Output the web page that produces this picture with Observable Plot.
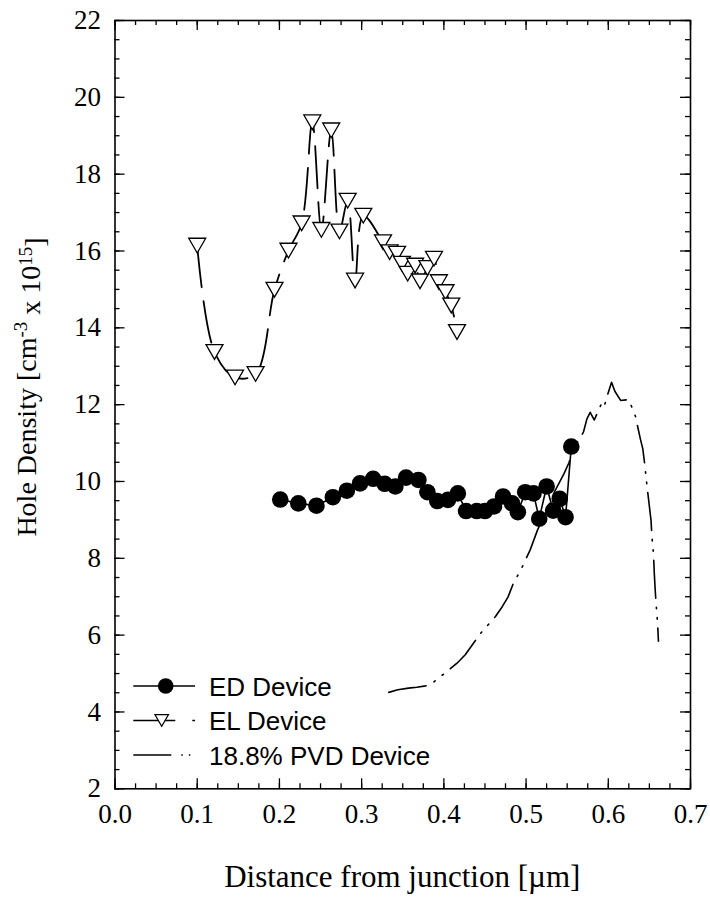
<!DOCTYPE html>
<html>
<head>
<meta charset="utf-8">
<script src="https://cdn.jsdelivr.net/npm/d3@7"></script>
<script src="https://cdn.jsdelivr.net/npm/@observablehq/plot@0.6"></script>
<style>
  html, body { margin: 0; padding: 0; background: #fff; }
</style>
</head>
<body>
<div id="chart"></div>
<script>
// ---------------- data ----------------
const edX = [0.201,0.223,0.245,0.265,0.282,0.298,0.314,0.328,0.341,0.354,0.369,0.380,0.392,0.405,0.417,0.427,0.440,0.450,0.461,0.472,0.483,0.490,0.499,0.509,0.516,0.525,0.533,0.541,0.548,0.555];
const edY = [9.53,9.43,9.37,9.59,9.76,9.95,10.07,9.94,9.87,10.10,10.04,9.72,9.49,9.52,9.69,9.23,9.23,9.23,9.35,9.61,9.43,9.20,9.72,9.69,9.03,9.87,9.24,9.55,9.07,10.91];

const elX = [0.100,0.121,0.146,0.171,0.194,0.211,0.227,0.240,0.251,0.263,0.273,0.283,0.292,0.302,0.326,0.334,0.343,0.349,0.356,0.365,0.371,0.380,0.388,0.394,0.402,0.409,0.416];
const elY = [16.14,13.37,12.71,12.80,14.99,16.01,16.72,19.35,16.55,19.14,16.51,17.31,15.23,16.92,16.23,15.97,15.93,15.67,15.41,15.62,15.21,15.56,15.80,15.19,14.93,14.58,13.89];

const pvdX = [0.333,0.344,0.357,0.367,0.378,0.384,0.391,0.403,0.416,0.426,0.444,0.463,0.471,0.478,0.484,0.495,0.505,0.514,0.525,0.535,0.546,0.552,0.560,0.565,0.570,0.574,0.578,0.583,0.587,0.592,0.595,0.599,0.604,0.608,0.615,0.625,0.633,0.639,0.642,0.644,0.647,0.650,0.652,0.653,0.655,0.656,0.657,0.658,0.660,0.661];
const pvdY = [4.51,4.58,4.62,4.645,4.68,4.715,4.84,5.04,5.27,5.49,6.03,6.49,6.74,6.99,7.32,7.76,8.22,8.74,9.25,9.75,10.20,10.48,10.98,11.08,11.30,11.63,11.80,11.60,11.80,12.04,11.95,12.25,12.58,12.35,12.11,12.13,11.70,11.11,10.85,10.50,9.90,9.35,8.98,8.59,8.10,7.60,7.20,6.86,6.30,5.84];

const xTickValues = [0, 0.1, 0.2, 0.3, 0.4, 0.5, 0.6, 0.7];
const xTickLabels = ["0.0","0.1","0.2","0.3","0.4","0.5","0.6","0.7"];
const yTickValues = [2,4,6,8,10,12,14,16,18,20,22];
const yTickLabels = ["2","4","6","8","10","12","14","16","18","20","22"];
const xMinor = d3.range(0, 29).map(i => i * 0.025);
const yMinor = d3.range(0, 41).map(i => 2 + i * 0.5);

const seriesNames = ["ED Device", "EL Device", "18.8% PVD Device"];

// ---------------- tables ----------------
const ed = edX.map((x, i) => ({x, y: edY[i]}));
const el = elX.map((x, i) => ({x, y: elY[i]}));
const pvd = pvdX.map((x, i) => ({x, y: pvdY[i]}));

// ---------------- layout ----------------
const W = 710, H = 897;
const mT = 20, mR = 20, mB = 108.7, mL = 114.5;
const innerW = W - mL - mR, innerH = H - mT - mB;
const serif = "'Liberation Serif', 'Times New Roman', Times, serif";
const sans = "'Liberation Sans', Arial, Helvetica, sans-serif";

const elDash = "42,14";
const pvdDash = "38,9,1.5,9,1.5,9";

// downward triangle centred on its bounding box
const triDown = {
  draw(context, size) {
    const w = Math.sqrt(4 * size / Math.sqrt(3));
    const h = w * Math.sqrt(3) / 2;
    context.moveTo(-w / 2, -h / 2);
    context.lineTo(w / 2, -h / 2);
    context.lineTo(0, h / 2);
    context.closePath();
  }
};

const chart = Plot.plot({
  width: W,
  height: H,
  marginTop: mT, marginRight: mR, marginBottom: mB, marginLeft: mL,
  style: {fontFamily: serif, background: "#fff", color: "#000"},
  x: {domain: [0, 0.7]},
  y: {domain: [2, 22]},
  marks: [
    // ticks (inward, all four sides)
    Plot.tickX(xMinor, {x: d => d, insetTop: innerH - 5, stroke: "#000", strokeWidth: 1.3}),
    Plot.tickX(xMinor, {x: d => d, insetBottom: innerH - 5, stroke: "#000", strokeWidth: 1.3}),
    Plot.tickX(xTickValues, {x: d => d, insetTop: innerH - 10, stroke: "#000", strokeWidth: 1.3}),
    Plot.tickX(xTickValues, {x: d => d, insetBottom: innerH - 10, stroke: "#000", strokeWidth: 1.3}),
    Plot.tickY(yMinor, {y: d => d, insetRight: innerW - 5, stroke: "#000", strokeWidth: 1.3}),
    Plot.tickY(yMinor, {y: d => d, insetLeft: innerW - 5, stroke: "#000", strokeWidth: 1.3}),
    Plot.tickY(yTickValues, {y: d => d, insetRight: innerW - 10, stroke: "#000", strokeWidth: 1.3}),
    Plot.tickY(yTickValues, {y: d => d, insetLeft: innerW - 10, stroke: "#000", strokeWidth: 1.3}),
    Plot.axisX({ticks: xTickValues, tickSize: 0, tickPadding: 15, fontSize: 27, label: null,
      tickFormat: d => xTickLabels[xTickValues.indexOf(d)]}),
    Plot.axisY({ticks: yTickValues, tickSize: 0, tickPadding: 14, fontSize: 27, label: null,
      tickFormat: d => yTickLabels[yTickValues.indexOf(d)]}),
    // series
    Plot.line(pvd, {x: "x", y: "y", stroke: "#000", strokeWidth: 1.6, strokeDasharray: pvdDash}),
    Plot.line(el, {x: "x", y: "y", curve: "catmull-rom", stroke: "#000", strokeWidth: 1.8, strokeDasharray: elDash}),
    Plot.dot(el, {x: "x", y: "y", symbol: triDown, r: 6.3, fill: "#fff", stroke: "#000", strokeWidth: 1.3}),
    Plot.line(ed, {x: "x", y: "y", stroke: "#000", strokeWidth: 1.6}),
    Plot.dot(ed, {x: "x", y: "y", r: 8.3, fill: "#000", stroke: "none"}),
    Plot.frame({stroke: "#000", strokeWidth: 1.6})
  ]
});

document.getElementById("chart").appendChild(chart);

// ---------------- titles & legend ----------------
const svg = d3.select(chart);

// x title
svg.append("text")
  .attr("x", mL + innerW / 2).attr("y", 887)
  .attr("text-anchor", "middle")
  .style("font-family", serif).style("font-size", "31px").attr("fill", "#000")
  .text("Distance from junction [µm]");

// y title with superscripts
const yt = svg.append("text")
  .attr("transform", `translate(36,387) rotate(-90)`)
  .attr("text-anchor", "middle")
  .style("font-family", serif).style("font-size", "28px").attr("fill", "#000");
yt.append("tspan").text("Hole Density [cm");
yt.append("tspan").attr("dy", "-0.45em").style("font-size", "19px").text("-3");
yt.append("tspan").attr("dy", "0.45em").text(" x 10");
yt.append("tspan").attr("dy", "-0.45em").style("font-size", "19px").text("15");
yt.append("tspan").attr("dy", "0.45em").text("]");

// legend
const lg = svg.append("g");
const lx0 = 133.3, lx1 = 195, tx = 209;
const rows = [686, 720.5, 755];
// ED
lg.append("line").attr("x1", lx0).attr("x2", lx1).attr("y1", rows[0]).attr("y2", rows[0])
  .attr("stroke", "#000").attr("stroke-width", 1.6);
lg.append("circle").attr("cx", 165.7).attr("cy", rows[0]).attr("r", 7.8).attr("fill", "#000");
// EL
lg.append("line").attr("x1", lx0).attr("x2", lx1).attr("y1", rows[1]).attr("y2", rows[1])
  .attr("stroke", "#000").attr("stroke-width", 1.6).attr("stroke-dasharray", "42,17");
lg.append("path").attr("transform", `translate(161.7,${rows[1]})`)
  .attr("d", d3.symbol(triDown, 80)()).attr("fill", "#fff").attr("stroke", "#000").attr("stroke-width", 1.2);
// PVD
lg.append("line").attr("x1", lx0).attr("x2", lx1).attr("y1", rows[2]).attr("y2", rows[2])
  .attr("stroke", "#000").attr("stroke-width", 1.6).attr("stroke-dasharray", "38,10,1.5,6,1.5,20");

seriesNames.forEach((name, i) => {
  lg.append("text").attr("x", tx).attr("y", rows[i] + 9.5)
    .attr("text-anchor", "start")
    .style("font-family", sans).style("font-size", "26px").attr("fill", "#000")
    .text(name);
});
</script>
</body>
</html>
